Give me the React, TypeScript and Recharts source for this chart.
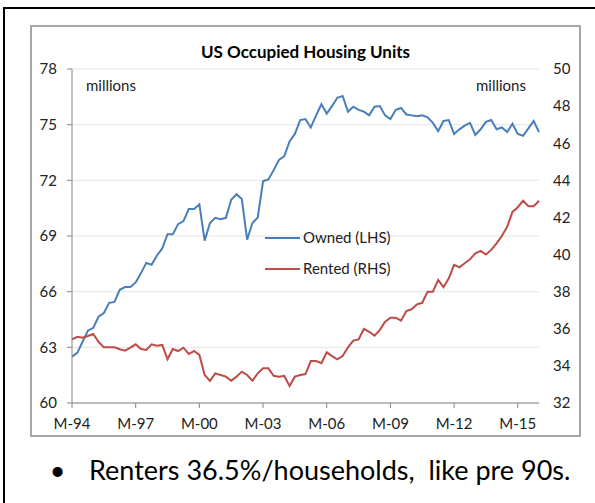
import { CartesianGrid, Line, LineChart, XAxis, YAxis } from "recharts"

// quarterly, Mar-94 .. Mar-16 (millions)
const owned = [
  62.5, 62.7, 63.3, 63.9, 64.05, 64.65, 64.85, 65.4, 65.45, 66.1, 66.25, 66.25,
  66.5, 67.0, 67.55, 67.45, 67.95, 68.33, 69.1, 69.1, 69.64, 69.8, 70.45, 70.45,
  70.7, 68.75, 69.7, 69.98, 69.9, 69.98, 70.95, 71.25, 71.0, 68.8, 69.7, 70.0,
  71.95, 72.05, 72.55, 73.1, 73.3, 74.1, 74.5, 75.25, 75.3, 74.85, 75.5, 76.1,
  75.6, 76.0, 76.45, 76.55, 75.7, 75.97, 75.8, 75.7, 75.5, 75.97, 76.0, 75.5,
  75.3, 75.8, 75.9, 75.55, 75.5, 75.45, 75.5, 75.4, 75.1, 74.65, 75.2, 75.25,
  74.5, 74.75, 74.95, 75.1, 74.45, 74.75, 75.15, 75.25, 74.75, 74.85, 74.6, 75.05,
  74.5, 74.4, 74.8, 75.2, 74.6,
]

const rented = [
  35.43, 35.57, 35.52, 35.61, 35.72, 35.3, 35.0, 35.0, 35.0, 34.9, 34.82, 34.98,
  35.16, 34.91, 34.86, 35.16, 35.09, 35.13, 34.36, 34.91, 34.8, 34.98, 34.64, 34.8,
  34.59, 33.51, 33.19, 33.6, 33.51, 33.42, 33.2, 33.42, 33.69, 33.51, 33.2, 33.6,
  33.87, 33.87, 33.47, 33.42, 33.46, 32.92, 33.42, 33.51, 33.56, 34.26, 34.26, 34.14,
  34.73, 34.53, 34.35, 34.53, 35.0, 35.36, 35.43, 35.99, 35.84, 35.63, 35.93, 36.38,
  36.6, 36.6, 36.44, 36.96, 37.05, 37.32, 37.4, 38.0, 38.0, 38.63, 38.24, 38.72,
  39.44, 39.31, 39.53, 39.74, 40.07, 40.2, 40.0, 40.25, 40.6, 41.0, 41.5, 42.3,
  42.55, 42.9, 42.6, 42.6, 42.9,
]

const quarterMonths = ["M", "J", "S", "D"]
const years = ["94", "95", "96", "97", "98", "99", "00", "01", "02", "03", "04",
  "05", "06", "07", "08", "09", "10", "11", "12", "13", "14", "15", "16"]
const quarters = years.flatMap((y) => quarterMonths.map((m) => `${m}-${y}`)).slice(0, owned.length)

const leftTicks = [60, 63, 66, 69, 72, 75, 78]
const rightTicks = [32, 34, 36, 38, 40, 42, 44, 46, 48, 50]
const seriesNames = ["Owned (LHS)", "Rented (RHS)"]

const data = quarters.map((q, i) => ({ q, owned: owned[i], rented: rented[i] }))

const FONT = "Lato, 'Open Sans', sans-serif"
const BLUE = "#4a7ebb"
const RED = "#be4b48"
const AXIS = "#868686"

export default function App() {
  const tickStyle = { fontSize: 15, fontFamily: FONT, fill: "#222" }
  const colors = [BLUE, RED]
  return (
    <div style={{ position: "absolute", left: 0, top: 0, width: 595, height: 503, background: "#fff", overflow: "hidden" }}>
      <div style={{ position: "absolute", left: 3, top: 7, width: 640, height: 540, border: "2px solid #000" }} />
      <div style={{ position: "absolute", left: 30, top: 25, width: 551, height: 412, boxSizing: "border-box", border: "2px solid #a6a6a6", background: "#fff" }} />
      <div style={{ position: "absolute", left: 31, top: 26 }}>
        <LineChart width={550} height={411} data={data} margin={{ top: 43, right: 0, bottom: 0, left: 0 }}>
          <CartesianGrid yAxisId="left" vertical={false} stroke="#e4e4e4" />
          <XAxis
            dataKey="q"
            interval={11}
            height={34}
            stroke={AXIS}
            tickSize={5}
            tickMargin={10}
            tick={tickStyle}
          />
          <YAxis
            yAxisId="left"
            orientation="left"
            width={41}
            domain={[60, 78]}
            ticks={leftTicks}
            stroke={AXIS}
            tickSize={5}
            tickMargin={10}
            tick={tickStyle}
          />
          <YAxis
            yAxisId="right"
            orientation="right"
            width={42}
            domain={[32, 50]}
            ticks={rightTicks}
            axisLine={false}
            tickLine={false}
            tickSize={0}
            tickMargin={14}
            tick={tickStyle}
          />
          <Line yAxisId="left" dataKey="owned" name={seriesNames[0]} stroke={BLUE} strokeWidth={2} dot={false} isAnimationActive={false} />
          <Line yAxisId="right" dataKey="rented" name={seriesNames[1]} stroke={RED} strokeWidth={2} dot={false} isAnimationActive={false} />
        </LineChart>
      </div>
      <svg width={595} height={503} style={{ position: "absolute", left: 0, top: 0, pointerEvents: "none" }}>
        <text x={305.5} y={58} textAnchor="middle" fontFamily={FONT} fontWeight="bold" fontSize={17} fill="#000">
          US Occupied Housing Units
        </text>
        <text x={86} y={91} fontFamily={FONT} fontSize={15} fill="#222">millions</text>
        <text x={476} y={91} fontFamily={FONT} fontSize={15} fill="#222">millions</text>
        {seriesNames.map((name, i) => (
          <g key={name} transform={`translate(265, ${238 + i * 31})`}>
            <line x1={0} x2={35} y1={0} y2={0} stroke={colors[i]} strokeWidth={2} />
            <text x={38} y={0} dy="0.36em" fontSize={15} fontFamily={FONT} fill="#222">{name}</text>
          </g>
        ))}
        <text x={57.5} y={480} textAnchor="middle" fontFamily={FONT} fontSize={27} fill="#000">•</text>
        <text x={89} y={480} fontFamily={FONT} fontSize={27} fill="#000" style={{ whiteSpace: "pre" }}>
          Renters 36.5%/households,  like pre 90s.
        </text>
      </svg>
    </div>
  )
}
